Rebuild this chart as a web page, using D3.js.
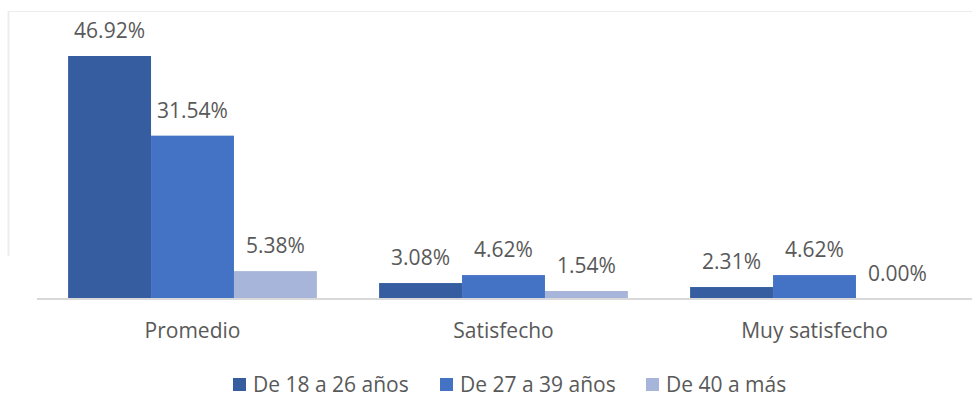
<!DOCTYPE html>
<html lang="es">
<head>
<meta charset="UTF-8">
<title>Satisfacción por edad</title>
<script src="https://cdn.jsdelivr.net/npm/d3@7"></script>
<style>
    body { margin: 0; background: #fff; }
    svg text { font-family: "Open Sans", "Noto Sans", sans-serif; fill: #595959; }
</style>
</head>
<body>
<svg id="chart" width="972" height="410"></svg>
<script>
    // datos
    var categorias = ["Promedio", "Satisfecho", "Muy satisfecho"];
    var series = ["De 18 a 26 años", "De 27 a 39 años", "De 40 a más"];
    var edad18a26 = [46.92, 3.08, 2.31];
    var edad27a39 = [31.54, 4.62, 4.62];
    var edad40mas = [5.38, 1.54, 0.00];
    var colores = ["#355d9f", "#4472c4", "#a8b5da"];

    var valores = [edad18a26, edad27a39, edad40mas];

    var svg = d3.select("#chart");
    var left = 37, right = 970, base = 299;

    // marco tenue
    svg.append("line").attr("x1", 8).attr("x2", 972).attr("y1", 11.5).attr("y2", 11.5)
        .attr("stroke", "#ececec").attr("stroke-width", 1);
    svg.append("line").attr("x1", 8.5).attr("x2", 8.5).attr("y1", 11).attr("y2", 256)
        .attr("stroke", "#ececec").attr("stroke-width", 2);

    var x0 = d3.scaleBand().domain(categorias).range([left, right])
        .paddingInner(0.2).paddingOuter(0.1);
    var x1 = d3.scaleBand().domain(series).range([0, x0.bandwidth()]);
    var y = d3.scaleLinear().domain([0, 46.92]).range([base, 56]);

    var grupos = svg.selectAll("g.grupo")
        .data(categorias)
        .enter()
        .append("g")
        .attr("class", "grupo")
        .attr("transform", function (d) { return "translate(" + x0(d) + ",0)"; });

    grupos.selectAll("rect")
        .data(function (d, i) {
            return series.map(function (s, j) { return { serie: s, v: valores[j][i], j: j }; });
        })
        .enter()
        .append("rect")
        .attr("x", function (d) { return x1(d.serie); })
        .attr("y", function (d) { return y(d.v); })
        .attr("width", x1.bandwidth())
        .attr("height", function (d) { return base - y(d.v); })
        .attr("fill", function (d) { return colores[d.j]; });

    grupos.selectAll("text.valor")
        .data(function (d, i) {
            return series.map(function (s, j) { return { serie: s, v: valores[j][i] }; });
        })
        .enter()
        .append("text")
        .attr("class", "valor")
        .attr("x", function (d) { return x1(d.serie) + x1.bandwidth() / 2; })
        .attr("y", function (d) { return y(d.v) - 18; })
        .attr("text-anchor", "middle")
        .attr("font-size", 21)
        .text(function (d) { return d.v.toFixed(2) + "%"; });

    // eje x
    var eje = svg.append("g")
        .attr("transform", "translate(0," + base + ")")
        .call(d3.axisBottom(x0).tickSize(0).tickPadding(24));
    eje.select(".domain").attr("stroke", "#d9d9d9").attr("stroke-width", 2)
        .attr("d", "M" + left + ",0H" + (right + 2));
    eje.selectAll(".tick text").attr("font-size", 21).attr("fill", "#595959")
        .style("font-family", "'Open Sans', 'Noto Sans', sans-serif");

    // leyenda
    var leyendaX = [233, 440, 646];
    var leyenda = svg.selectAll("g.leyenda")
        .data(series)
        .enter()
        .append("g")
        .attr("class", "leyenda")
        .attr("transform", function (d, i) { return "translate(" + leyendaX[i] + ",378)"; });
    leyenda.append("rect").attr("width", 13).attr("height", 13)
        .attr("fill", function (d, i) { return colores[i]; });
    leyenda.append("text").attr("x", 20).attr("y", 14).attr("font-size", 21)
        .text(function (d) { return d; });
</script>
</body>
</html>
